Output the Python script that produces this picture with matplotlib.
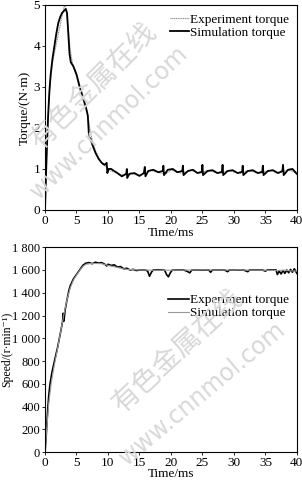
import matplotlib
matplotlib.use("Agg")
import matplotlib.pyplot as plt

plt.rcParams['font.family'] = ['Liberation Serif', 'DejaVu Serif']
plt.rcParams['font.size'] = 9.5

# --- torque (top panel), time in ms, torque in N*m
sim_torque_t = [0, 0.15, 0.3, 0.5, 0.7, 0.9, 1.2, 1.5, 1.8, 2.1, 2.4, 2.7, 3.0, 3.3, 3.5, 3.7, 3.9, 4.1,
                4.5, 5.0, 5.5, 6.0, 6.5, 6.8, 7.0, 7.2, 7.5, 8.0, 8.5, 9.0, 9.5, 9.8, 9.9, 10.1, 10.5,
                11.5, 12.2, 12.9, 13.0, 13.05, 13.4, 14.2, 15.0, 15.7, 15.85, 15.95, 16.4, 17.2, 18.0,
                18.7, 18.8, 18.9, 19.5, 20.3, 21.0, 21.8, 21.9, 22.0, 22.7, 23.5, 24.2, 24.9, 25.0,
                25.1, 25.8, 26.6, 27.4, 28.1, 28.2, 28.3, 29.0, 29.8, 30.6, 31.3, 31.4, 31.5, 32.2,
                33.0, 33.8, 34.5, 34.6, 34.7, 35.4, 36.2, 37.0, 37.7, 37.8, 37.9, 38.6, 39.3, 40.0]
sim_torque = [0, 0.8, 1.5, 2.3, 2.9, 3.3, 3.7, 4.0, 4.3, 4.55, 4.7, 4.8, 4.85, 4.9, 4.8, 4.3, 3.8, 3.6,
              3.5, 3.3, 3.0, 2.75, 2.5, 2.3, 1.75, 1.75, 1.6, 1.4, 1.25, 1.15, 1.1, 1.15, 0.9, 1.0, 1.0,
              0.9, 0.82, 0.88, 1.0, 0.78, 0.88, 0.9, 0.83, 0.9, 1.05, 0.82, 0.95, 0.98, 0.92,
              0.95, 1.08, 0.85, 0.98, 1.0, 0.92, 0.95, 1.08, 0.85, 0.95, 0.98, 0.9, 0.93, 1.1,
              0.85, 0.95, 0.97, 0.9, 0.93, 1.1, 0.85, 0.95, 0.97, 0.9, 0.93, 1.08, 0.85, 0.95,
              0.97, 0.9, 0.93, 1.08, 0.85, 0.95, 0.97, 0.9, 0.95, 1.1, 0.85, 0.98, 1.0, 0.88]

exp_torque_t = [0, 0.2, 0.4, 0.6, 0.9, 1.2, 1.6, 2.0, 2.4, 2.8, 3.1, 3.4, 3.7, 4.0, 4.4, 5.0, 5.6, 6.2,
                6.7, 7.1, 7.5, 8.0, 8.6, 9.2, 9.8, 10.4, 11.2, 12.0, 12.8, 13.6, 14.4, 15.2, 16.0,
                16.8, 17.6, 18.4, 19.2, 20.0, 20.8, 21.6, 22.4, 23.2, 24.0, 24.8, 25.6, 26.4, 27.2,
                28.0, 28.8, 29.6, 30.4, 31.2, 32.0, 32.8, 33.6, 34.4, 35.2, 36.0, 36.8, 37.6, 38.4,
                39.2, 40.0]
exp_torque = [0, 1.0, 1.9, 2.6, 3.2, 3.6, 3.9, 4.2, 4.5, 4.8, 5.0, 4.85, 4.4, 3.9, 3.55, 3.35, 3.0, 2.7,
              2.4, 2.0, 1.7, 1.45, 1.25, 1.1, 1.05, 0.95, 0.92, 0.85, 0.88, 0.9, 0.86, 0.85, 0.93,
              0.97, 0.93, 0.9, 0.88, 0.97, 0.95, 0.9, 0.93, 0.97, 0.92, 0.9, 0.95, 0.95, 0.9,
              0.9, 0.95, 0.95, 0.9, 0.9, 0.95, 0.95, 0.9, 0.9, 0.95, 0.96, 0.9, 0.92, 0.97,
              0.95, 0.88]

# --- speed (bottom panel), r/min
exp_speed_t = [0, 0.2, 0.4, 0.6, 0.8, 1.1, 1.5, 2.0, 2.5, 2.8, 2.9, 3.0, 3.2, 3.5, 3.8, 4.0, 4.5, 5.0,
               5.5, 6.0, 6.5, 7.0, 7.5, 8.0, 8.5, 9.0, 9.5, 9.8, 10.0, 10.5, 11.0, 11.5, 12.0, 12.5,
               13.0, 13.5, 14.0, 14.5, 15.0, 15.5, 16.0, 16.3, 16.6, 16.9, 17.2, 18.0, 19.0, 19.3,
               19.6, 19.9, 20.2, 21.0, 22.0, 22.5, 23.0, 23.3, 24.0, 25.0, 26.0, 26.3, 26.6, 27.5,
               28.5, 29.0, 29.3, 30.0, 31.0, 31.5, 32.2, 32.5, 33.5, 34.5, 35.0, 35.3, 36.0, 36.7,
               36.9, 37.2, 37.5, 37.8, 38.1, 38.4, 38.7, 39.0, 39.3, 39.6, 40.0]
exp_speed = [0, 150, 350, 500, 600, 700, 800, 920, 1060, 1150, 1220, 1150, 1250, 1340, 1420, 1460, 1520,
             1560, 1600, 1640, 1660, 1665, 1655, 1668, 1660, 1665, 1650, 1635, 1650, 1640, 1645, 1625,
             1630, 1610, 1615, 1600, 1605, 1595, 1600, 1600, 1598, 1590, 1545, 1580, 1600, 1602, 1598,
             1560, 1540, 1575, 1598, 1600, 1600, 1590, 1575, 1598, 1600, 1598, 1600, 1580, 1600, 1600,
             1600, 1585, 1600, 1600, 1598, 1600, 1585, 1600, 1600, 1600, 1590, 1600, 1600, 1600,
             1560, 1590, 1565, 1595, 1570, 1600, 1575, 1605, 1580, 1610, 1570]

sim_speed_t = [0, 0.3, 0.6, 1.0, 1.5, 2.0, 2.5, 3.0, 3.5, 4.0, 4.5, 5.0, 5.5, 6.0, 6.5, 7.5, 9.0, 10.0,
               11.0, 12.0, 13.0, 15.0, 17.0, 20.0, 25.0, 30.0, 35.0, 37.0, 38.0, 39.0, 40.0]
sim_speed = [0, 220, 430, 610, 770, 910, 1060, 1210, 1340, 1440, 1510, 1555, 1595, 1630, 1650, 1658,
             1655, 1640, 1628, 1615, 1605, 1600, 1598, 1598, 1600, 1600, 1598, 1595, 1598, 1592, 1590]

speed_ticks = [0, 200, 400, 600, 800, 1000, 1200, 1400, 1600, 1800]
speed_labels = ['0', '200', '400', '600', '800', '1 000', '1 200', '1 400', '1 600', '1 800']
time_ticks = [0, 5, 10, 15, 20, 25, 30, 35, 40]

fig = plt.figure(figsize=(3.02, 4.80), dpi=100)
ax1 = fig.add_axes([0.149, 0.5625, 0.834, 0.4275])
ax2 = fig.add_axes([0.149, 0.058, 0.834, 0.427])

for ax in (ax1, ax2):
    ax.tick_params(direction='out', length=2.5, width=0.6, pad=1, labelsize=9.5)
    for s in ax.spines.values():
        s.set_linewidth(0.8)
    ax.set_xlim(0, 40)
    ax.set_xticks(time_ticks)

ax1.plot(exp_torque_t, exp_torque, color='#8a8a8a', lw=0.8, ls=(0, (1, 0.6)), label='Experiment torque')
ax1.plot(sim_torque_t, sim_torque, color='black', lw=1.3, label='Simulation torque')
ax1.set_ylim(0, 5)
ax1.set_yticks([0, 1, 2, 3, 4, 5])
ax1.set_ylabel('Torque/(N·m)', labelpad=2)
ax1.set_xlabel('Time/ms', labelpad=0)
ax1.legend(loc='upper right', bbox_to_anchor=(1.0, 0.995), frameon=False, fontsize=9.5,
           handlelength=1.4, handletextpad=0.1, labelspacing=0.05, borderaxespad=0.2)

ax2.plot(exp_speed_t, exp_speed, color='black', lw=1.2, label='Experiment torque')
ax2.plot(sim_speed_t, sim_speed, color='#9a9a9a', lw=0.8, label='Simulation torque')
ax2.set_ylim(0, 1800)
ax2.set_yticks(speed_ticks)
ax2.set_yticklabels(speed_labels, fontsize=9)
ax2.set_ylabel('Speed/(r·min⁻¹)', fontsize=8.5)
ax2.yaxis.set_label_coords(-0.128, 0.5)
ax2.set_xlabel('Time/ms', labelpad=-1)
ax2.legend(loc='upper right', bbox_to_anchor=(1.0, 0.81), frameon=False, fontsize=9.5,
           handlelength=1.6, handletextpad=0.1, labelspacing=0.05, borderaxespad=0.2)

# watermark
wm = dict(color='#d8d8d8', ha='center', va='center', zorder=0)
fig.text(0.31, 0.82, '有色金属在线', rotation=45, fontsize=20,
         family=['Noto Sans CJK SC', 'DejaVu Sans'], **wm)
fig.text(0.36, 0.745, 'www.cnnmol.com', rotation=44, fontsize=17, family='DejaVu Sans', **wm)
fig.text(0.59, 0.27, '有色金属在线', rotation=43, fontsize=20,
         family=['Noto Sans CJK SC', 'DejaVu Sans'], **wm)
fig.text(0.67, 0.18, 'www.cnnmol.com', rotation=40, fontsize=17, family='DejaVu Sans', **wm)

fig.savefig('out.png', dpi=100)
